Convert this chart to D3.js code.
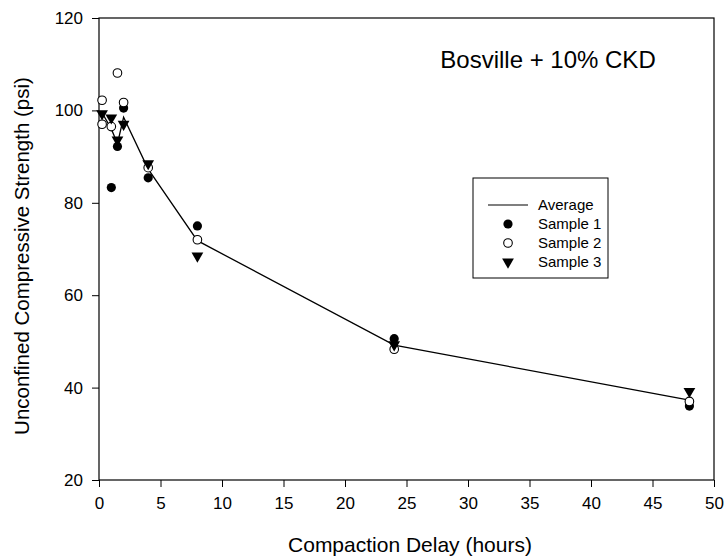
<!DOCTYPE html>
<html>
<head>
<meta charset="utf-8">
<script src="https://cdn.jsdelivr.net/npm/d3@7"></script>
<style>
  body { margin: 0; background: white; }
  text { font-family: "Liberation Sans", Arial, sans-serif; fill: black; }
</style>
</head>
<body>
<svg id="chart" width="728" height="559"></svg>
<script>
const svg = d3.select("#chart");

// values, [hours, psi]
const averageHours = [0.25, 1, 1.5, 2, 4, 8, 24, 48];
const averageValues = [99.5, 96, 92.8, 98.5, 87.3, 71.8, 49.2, 37.3];

const sample1 = [[1, 83.3], [1.5, 92.2], [2, 100.5], [4, 85.4], [8, 75], [24, 50.6], [48, 36]];
const sample2 = [[0.25, 102.2], [0.25, 97], [1, 96.5], [1.5, 108.1], [2, 101.7], [4, 87.6], [8, 72], [24, 48.3], [48, 37]];
const sample3 = [[0.25, 99.3], [1, 98.4], [1.5, 93.6], [2, 97], [4, 88.5], [8, 68.5], [24, 49.3], [48, 39.2]];

const xTicks = [0, 5, 10, 15, 20, 25, 30, 35, 40, 45, 50];
const yTicks = [20, 40, 60, 80, 100, 120];
const legendLabels = ["Average", "Sample 1", "Sample 2", "Sample 3"];

const LEFT = 99, RIGHT = 714, TOP = 18, BOTTOM = 480;

let xscale = d3.scaleLinear().domain([0, 50]).range([LEFT, RIGHT]);
let yscale = d3.scaleLinear().domain([20, 120]).range([BOTTOM, TOP]);

const TRI = d3.symbol().type(d3.symbolTriangle).size(60);

function main() {
    drawAxes();
    drawAverage();
    drawSamples();
    drawLegend();
}

function drawAxes() {
    svg.append("g")
        .attr("transform", `translate(0,${BOTTOM})`)
        .call(d3.axisBottom(xscale).tickValues(xTicks).tickSizeInner(7).tickSizeOuter(0).tickPadding(10))
        .call(g => g.select(".domain").remove())
        .call(g => g.selectAll("text").attr("font-size", 17).attr("font-family", "Liberation Sans, Arial, sans-serif"));

    svg.append("g")
        .attr("transform", `translate(${LEFT},0)`)
        .call(d3.axisLeft(yscale).tickValues(yTicks).tickSizeInner(7).tickSizeOuter(0).tickPadding(9))
        .call(g => g.select(".domain").remove())
        .call(g => g.selectAll("text").attr("font-size", 17).attr("font-family", "Liberation Sans, Arial, sans-serif"));

    // frame
    svg.append("rect")
        .attr("x", LEFT).attr("y", TOP)
        .attr("width", RIGHT - LEFT).attr("height", BOTTOM - TOP)
        .attr("fill", "none").attr("stroke", "black").attr("stroke-width", 1.2);

    svg.append("text")
        .attr("x", 410).attr("y", 552)
        .attr("text-anchor", "middle").attr("font-size", 21)
        .text("Compaction Delay (hours)");

    svg.append("text")
        .attr("transform", `translate(29,${(TOP + BOTTOM) / 2 + 7}) rotate(-90)`)
        .attr("text-anchor", "middle").attr("font-size", 20.5)
        .text("Unconfined Compressive Strength (psi)");

    svg.append("text")
        .attr("x", 548).attr("y", 68)
        .attr("text-anchor", "middle").attr("font-size", 24)
        .text("Bosville + 10% CKD");
}

function drawAverage() {
    const pts = averageHours.map((h, i) => [h, averageValues[i]]);
    const line = d3.line().x(d => xscale(d[0])).y(d => yscale(d[1]));
    svg.append("path")
        .datum(pts)
        .attr("d", line)
        .attr("fill", "none")
        .attr("stroke", "black")
        .attr("stroke-width", 1.3);
}

function drawSamples() {
    svg.selectAll(".s1").data(sample1).join("circle")
        .attr("class", "s1")
        .attr("cx", d => xscale(d[0])).attr("cy", d => yscale(d[1]))
        .attr("r", 4.6).attr("fill", "black");

    svg.selectAll(".s2").data(sample2).join("circle")
        .attr("class", "s2")
        .attr("cx", d => xscale(d[0])).attr("cy", d => yscale(d[1]))
        .attr("r", 4.3).attr("fill", "white").attr("stroke", "black").attr("stroke-width", 1.1);

    svg.selectAll(".s3").data(sample3).join("path")
        .attr("class", "s3")
        .attr("d", TRI)
        .attr("transform", d => `translate(${xscale(d[0])},${yscale(d[1])}) rotate(180)`)
        .attr("fill", "black");
}

function drawLegend() {
    const g = svg.append("g");
    g.append("rect")
        .attr("x", 473).attr("y", 178).attr("width", 135).attr("height", 100)
        .attr("fill", "white").attr("stroke", "black").attr("stroke-width", 1);

    const rowY = i => 205 + i * 19;
    const mx = 508;

    g.append("line")
        .attr("x1", 488).attr("x2", 528).attr("y1", rowY(0)).attr("y2", rowY(0))
        .attr("stroke", "black").attr("stroke-width", 1.2);
    g.append("circle").attr("cx", mx).attr("cy", rowY(1)).attr("r", 4.6).attr("fill", "black");
    g.append("circle").attr("cx", mx).attr("cy", rowY(2)).attr("r", 4.3)
        .attr("fill", "white").attr("stroke", "black").attr("stroke-width", 1.1);
    g.append("path").attr("d", TRI)
        .attr("transform", `translate(${mx},${rowY(3)}) rotate(180)`).attr("fill", "black");

    g.selectAll(".legtext").data(legendLabels).join("text")
        .attr("class", "legtext")
        .attr("x", 538).attr("y", (d, i) => rowY(i))
        .attr("dy", "0.35em")
        .attr("font-size", 15)
        .text(d => d);
}

main();
</script>
</body>
</html>
